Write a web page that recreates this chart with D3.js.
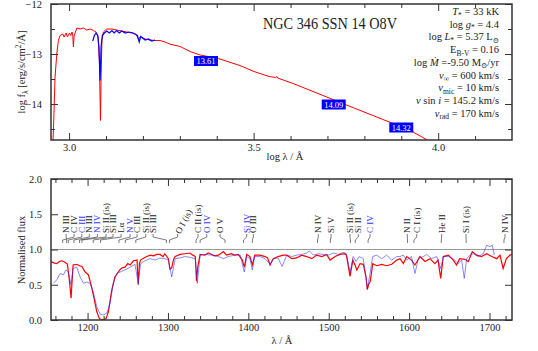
<!DOCTYPE html>
<html>
<head>
<meta charset="utf-8">
<script src="https://cdn.jsdelivr.net/npm/d3@7"></script>
<style>
  body { margin: 0; background: #fff; }
  text { font-family: "Liberation Serif", "DejaVu Serif", serif; fill: #222; }
</style>
</head>
<body>
<svg id="chart" width="538" height="351"></svg>
<script>
// ---- SED panel (log lambda vs log flux) ----
var sedLogLam = [2.9566, 2.959, 2.962, 2.9667, 2.971, 2.9756, 2.983, 2.9865, 2.992, 2.9955, 3.001, 3.0045, 3.008, 3.010, 3.0117, 3.0135, 3.0154,
  3.021, 3.03, 3.039, 3.048, 3.057, 3.066, 3.073, 3.0786, 3.082, 3.085, 3.0867, 3.089, 3.093, 3.102, 3.116, 3.129, 3.143, 3.156, 3.170,
  3.1816, 3.188, 3.194, 3.206, 3.2195, 3.233, 3.2466, 3.26, 3.272, 3.3008, 3.328, 3.355, 3.404, 3.463, 3.501, 3.542, 3.560, 3.563, 3.565,
  3.607, 3.688, 3.748, 3.878, 3.9295, 3.973];
var sedLogF = [-14.72, -14.2, -13.46, -13.0, -12.73, -12.63, -12.60, -12.66, -12.58, -12.66, -12.58, -12.63, -12.56, -12.62, -12.86, -12.65, -12.60,
  -12.48, -12.50, -12.48, -12.52, -12.50, -12.53, -12.56, -12.66, -13.13, -14.33, -13.46, -12.73, -12.56, -12.50, -12.50, -12.52, -12.54, -12.56, -12.58,
  -12.61, -12.70, -12.65, -12.70, -12.72, -12.73, -12.73, -12.76, -12.80, -12.85, -12.95, -13.02, -13.09, -13.23, -13.35, -13.45, -13.47, -13.45, -13.48,
  -13.59, -13.83, -14.01, -14.39, -14.55, -14.73];

var obsLogLam = [3.064, 3.0686, 3.073, 3.0777, 3.081, 3.084, 3.0867, 3.090, 3.0957, 3.102, 3.109, 3.116, 3.122, 3.129, 3.136, 3.143,
  3.152, 3.161, 3.174, 3.185, 3.190, 3.194, 3.206, 3.215, 3.224, 3.233];
var obsLogF = [-12.74, -12.63, -12.58, -12.63, -12.86, -13.53, -12.86, -12.63, -12.58, -12.54, -12.58, -12.53, -12.58, -12.53, -12.58, -12.54,
  -12.58, -12.56, -12.58, -12.63, -12.76, -12.65, -12.72, -12.70, -12.74, -12.72];

var photLogLam = [3.371, 3.717, 3.900];
var photLogF = [-13.14, -14.01, -14.47];
var photMag = ['13.61', '14.09', '14.32'];

var sedXTicks = [3.0, 3.5, 4.0];
var sedXMinor = [3.1, 3.2, 3.3, 3.4, 3.6, 3.7, 3.8, 3.9, 4.1];
var sedYTicks = [-14, -13, -12];
var sedYMinor = [-14.5, -13.5, -12.5];

var title = 'NGC 346 SSN 14 O8V';
var paramLines = [
  [['T', 'i'], ['*', 'sub'], [' = 33 kK']],
  [['log '], ['g', 'i'], ['*', 'sub'], [' =  4.4']],
  [['log '], ['L', 'i'], ['*', 'sub'], [' = 5.37 L'], ['\u2299', 'sub']],
  [['E'], ['B-V', 'sub'], [' = 0.16']],
  [['log '], ['\u1E40', 'i'], ['  =-9.50 M'], ['\u2299', 'sub'], ['/yr']],
  [['v', 'i'], ['\u221E', 'sub'], [' = 600 km/s']],
  [['v', 'i'], ['mic', 'sub'], [' = 10 km/s']],
  [['v', 'i'], [' sin '], ['i', 'i'], [' = 145.2 km/s']],
  [['v', 'i'], ['rad', 'sub'], [' = 170 km/s']]
];

// ---- UV panel (normalised) ----
var modelWave = [1154.5, 1158, 1161.7, 1165, 1168, 1172, 1175, 1177.5, 1179.5, 1181, 1182, 1186.5, 1190, 1193, 1197, 1201, 1205, 1208,
  1211.4, 1214.7, 1218, 1223, 1226, 1230, 1234, 1240, 1243, 1246.6, 1250, 1253, 1257, 1261.5, 1263, 1264.5, 1266, 1270, 1273.6, 1278,
  1282, 1286, 1290, 1294, 1296, 1300.5, 1302.5, 1304.7, 1307, 1309, 1315, 1321, 1327.5, 1331, 1334, 1335.5, 1337, 1340, 1346, 1350,
  1354.5, 1358, 1362.7, 1369, 1373, 1379, 1383, 1387.6, 1392.5, 1395, 1398, 1402, 1405, 1408, 1414.5, 1420.8, 1424, 1427, 1431, 1437,
  1443.5, 1447.8, 1454, 1460, 1466.4, 1472.6, 1479, 1485, 1491.4, 1497.5, 1501.6, 1508, 1514, 1520, 1522, 1526.5, 1530, 1532.7, 1535,
  1539, 1543, 1546.4, 1548, 1549.5, 1551.4, 1553, 1554.7, 1559.7, 1566, 1572, 1578.4, 1584.6, 1588.7, 1592.8, 1597, 1603, 1607.3,
  1613.5, 1619.8, 1626, 1632, 1636, 1639.3, 1642.5, 1648.8, 1655, 1659, 1663, 1669.5, 1673.6, 1678.6, 1684, 1690, 1696.5, 1702.7,
  1709, 1713, 1717, 1721, 1725.6, 1728];
var modelFlux = [0.83, 0.81, 0.80, 0.83, 0.84, 0.82, 0.79, 0.55, 0.31, 0.60, 0.78, 0.79, 0.77, 0.76, 0.68, 0.64, 0.47, 0.31,
  0.12, 0.02, 0.0, 0.02, 0.12, 0.42, 0.61, 0.71, 0.74, 0.75, 0.80, 0.78, 0.84, 0.85, 0.50, 0.80, 0.85, 0.88, 0.90, 0.92,
  0.91, 0.93, 0.93, 0.90, 0.94, 0.87, 0.72, 0.74, 0.86, 0.90, 0.93, 0.94, 0.95, 0.92, 0.90, 0.55, 0.75, 0.93, 0.92, 0.95,
  0.93, 0.91, 0.92, 0.97, 0.92, 0.94, 0.92, 0.93, 0.85, 0.75, 0.93, 0.90, 0.78, 0.92, 0.92, 0.90, 0.88, 0.78, 0.87, 0.90,
  0.92, 0.92, 0.87, 0.88, 0.92, 0.90, 0.87, 0.92, 0.90, 0.93, 0.85, 0.90, 0.93, 0.94, 0.92, 0.62, 0.85, 0.78, 0.71,
  0.80, 0.79, 0.61, 0.43, 0.50, 0.54, 0.65, 0.80, 0.77, 0.79, 0.77, 0.79, 0.85, 0.87, 0.80, 0.90, 0.85, 0.78,
  0.90, 0.83, 0.87, 0.80, 0.85, 0.59, 0.90, 0.92, 0.85, 0.78, 0.87, 0.86, 0.83, 0.97, 0.92, 0.90, 0.94, 0.90,
  0.87, 0.92, 0.73, 0.87, 0.92, 0.93];

var uvObsWave = [1157.5, 1161.7, 1165.8, 1170, 1173, 1176, 1179.5, 1182, 1186.5, 1190.7, 1195, 1199, 1203, 1207, 1211.4, 1215.5,
  1219.7, 1224, 1228, 1232, 1236.3, 1240.4, 1246.6, 1253, 1259, 1263, 1266, 1271.5, 1277.7, 1284, 1290, 1296, 1300.5, 1304.7,
  1309, 1315, 1321, 1327.5, 1334, 1336.5, 1340, 1346, 1354.5, 1362.7, 1369, 1375, 1383.5, 1390, 1395, 1398, 1402, 1405, 1408,
  1414.5, 1420.8, 1427, 1431, 1437, 1442, 1447.8, 1454, 1460, 1466.4, 1472.6, 1476, 1481, 1487, 1493, 1499.5, 1505.7, 1512,
  1518, 1522, 1526.5, 1530.5, 1534, 1538, 1543, 1546.4, 1548, 1551.4, 1554.7, 1559.7, 1566, 1572, 1578.4, 1584.6, 1588.7,
  1592.8, 1597, 1603, 1607.3, 1611.5, 1617.7, 1622, 1628, 1634.4, 1639.3, 1642.5, 1648.8, 1655, 1661, 1665.4, 1668.6, 1671.6,
  1675.7, 1680, 1686, 1692.3, 1696.5, 1700.6, 1703.5, 1706];
var uvObsFlux = [0.52, 0.57, 0.66, 0.64, 0.71, 0.68, 0.50, 0.73, 0.75, 0.61, 0.52, 0.54, 0.52, 0.40, 0.19, 0.085,
  0.07, 0.10, 0.24, 0.52, 0.66, 0.68, 0.71, 0.75, 0.79, 0.52, 0.80, 0.84, 0.87, 0.85, 0.88, 0.87, 0.85, 0.61,
  0.87, 0.88, 0.90, 0.89, 0.87, 0.52, 0.92, 0.93, 0.92, 0.90, 0.87, 0.90, 0.92, 0.92, 0.68, 0.90, 0.87, 0.71, 0.90,
  0.90, 0.87, 0.79, 0.87, 0.88, 0.76, 0.92, 0.90, 0.92, 0.93, 0.95, 0.98, 0.92, 0.94, 0.93, 0.92, 0.95, 0.93,
  0.96, 0.94, 0.68, 0.90, 0.83, 0.90, 0.87, 0.61, 0.44, 0.66, 0.90, 0.92, 0.87, 0.92, 0.85, 0.90, 0.90,
  0.92, 0.85, 0.90, 0.66, 0.87, 0.90, 0.93, 0.87, 0.90, 0.73, 0.90, 0.90, 0.87, 0.80, 0.85, 0.59, 0.87,
  0.92, 0.94, 0.90, 0.94, 1.06, 1.04, 1.06, 0.92];

var idText = ['N III', 'C IV', 'C III', 'N III', 'N IV', 'Si II (is)', 'Si III', 'L\u03B1', 'N V', 'C III', 'Si II (is)', 'Si III', 'O I (is)',
  'C II (is)', 'O IV', 'O V', 'Si IV', 'O III', 'N IV', 'Si V', 'Si II (is)', 'Si II', 'C IV', 'N II', 'C I (is)', 'He II', 'Si I (is)', 'N IV'];
var idWave = [1174, 1169, 1176, 1183, 1190, 1193, 1207, 1216, 1239, 1247, 1260, 1298, 1302,
  1335, 1340, 1371, 1394, 1405, 1486, 1502, 1527, 1533, 1549, 1598, 1606, 1640, 1671, 1718];
var idLabelWave = [1173.3, 1183.2, 1192.8, 1202.2, 1212.2, 1223, 1231.7, 1241.7, 1252.9, 1261.6, 1272.4, 1281.5, 1312,
  1337.4, 1348.3, 1364.8, 1398, 1406.2, 1487, 1502.9, 1526.5, 1536.8, 1551.4, 1597.8, 1609.5, 1640.5, 1670.8, 1719.3];
var idBlue = [0, 0, 1, 0, 1, 0, 0, 0, 1, 0, 0, 0, 0, 0, 1, 0, 1, 0, 0, 0, 0, 0, 1, 0, 0, 0, 0, 0];

var uvXTicks = [1200, 1300, 1400, 1500, 1600, 1700];
var uvXMinor = [1160, 1180, 1220, 1240, 1260, 1280, 1320, 1340, 1360, 1380, 1420, 1440, 1460, 1480,
  1520, 1540, 1560, 1580, 1620, 1640, 1660, 1680, 1720];
var uvYTicks = [0, 0.5, 1.0, 1.5, 2.0];

var svg = d3.select('#chart');
var frameColor = '#333';

var boxTop = { left: 51, right: 512, top: 4, bottom: 140 },
  boxBot = { left: 51, right: 512, top: 179, bottom: 320 };

var xTop = d3.scaleLinear().domain([2.951, 4.2]).range([boxTop.left, boxTop.right]),
  yTop = d3.scaleLinear().domain([-14.72, -12]).range([boxTop.bottom, boxTop.top]);
var xBot = d3.scaleLinear().domain([1154.5, 1728]).range([boxBot.left, boxBot.right]),
  yBot = d3.scaleLinear().domain([0, 2]).range([boxBot.bottom, boxBot.top]);

var defs = svg.append('defs');
[['clipTop', boxTop], ['clipBot', boxBot]].forEach(function(c) {
  defs.append('clipPath').attr('id', c[0]).append('rect')
    .attr('x', c[1].left).attr('y', c[1].top)
    .attr('width', c[1].right - c[1].left).attr('height', c[1].bottom - c[1].top);
});

function drawAxes(box, x, y, xMaj, xMin, yMaj, yMin, xFmt, yFmt) {
  var g = svg.append('g');
  function add(axis, tx, ty) {
    var a = g.append('g').attr('transform', 'translate(' + tx + ',' + ty + ')').call(axis);
    a.select('.domain').remove();
    a.selectAll('line').attr('stroke', frameColor).attr('stroke-width', 1);
    a.selectAll('text').attr('font-size', 10.5).style('font-family', '"Liberation Serif", serif').attr('fill', '#222');
  }
  add(d3.axisBottom(x).tickValues(xMaj).tickSize(-7).tickPadding(4).tickFormat(xFmt), 0, box.bottom);
  add(d3.axisBottom(x).tickValues(xMin).tickSize(-4).tickFormat(''), 0, box.bottom);
  add(d3.axisTop(x).tickValues(xMaj).tickSize(-7).tickFormat(''), 0, box.top);
  add(d3.axisTop(x).tickValues(xMin).tickSize(-4).tickFormat(''), 0, box.top);
  add(d3.axisLeft(y).tickValues(yMaj).tickSize(-7).tickPadding(9).tickFormat(yFmt), box.left, 0);
  add(d3.axisRight(y).tickValues(yMaj).tickSize(-7).tickFormat(''), box.right, 0);
  if (yMin.length) {
    add(d3.axisLeft(y).tickValues(yMin).tickSize(-4).tickFormat(''), box.left, 0);
    add(d3.axisRight(y).tickValues(yMin).tickSize(-4).tickFormat(''), box.right, 0);
  }
  g.append('rect')
    .attr('x', box.left).attr('y', box.top)
    .attr('width', box.right - box.left).attr('height', box.bottom - box.top)
    .attr('fill', 'none').attr('stroke', frameColor).attr('stroke-width', 1.5);
}

// ---------- top panel ----------
var lineTop = d3.line().x(function(d) { return xTop(d[0]); }).y(function(d) { return yTop(d[1]); });
var gTop = svg.append('g').attr('clip-path', 'url(#clipTop)');
gTop.append('path')
  .datum(sedLogLam.map(function(v, i) { return [v, sedLogF[i]]; }))
  .attr('d', lineTop).attr('fill', 'none').attr('stroke', '#ff0000').attr('stroke-width', 1);
gTop.append('path')
  .datum(obsLogLam.map(function(v, i) { return [v, obsLogF[i]]; }))
  .attr('d', lineTop).attr('fill', 'none').attr('stroke', '#0000ff').attr('stroke-width', 1.2);

var phot = svg.append('g').selectAll('g').data(photMag).enter().append('g')
  .attr('transform', function(d, i) { return 'translate(' + xTop(photLogLam[i]) + ',' + yTop(photLogF[i]) + ')'; });
phot.append('rect').attr('x', -12).attr('y', -5).attr('width', 24).attr('height', 10).attr('fill', '#0000ff');
phot.append('text').attr('text-anchor', 'middle').attr('y', 3).attr('font-size', 8.5)
  .style('fill', '#fff').text(function(d) { return d; });

drawAxes(boxTop, xTop, yTop, sedXTicks, sedXMinor, sedYTicks, sedYMinor, d3.format('.1f'), d3.format('d'));

svg.append('text').attr('x', 263).attr('y', 29).attr('font-size', 16)
  .attr('textLength', 134).attr('lengthAdjust', 'spacingAndGlyphs').text(title);

var params = svg.append('g').selectAll('text').data(paramLines).enter().append('text')
  .attr('x', 499).attr('y', function(d, i) { return 15 + i * 12.7; })
  .attr('text-anchor', 'end').attr('font-size', 10.5);
params.each(function(segs) {
  var t = d3.select(this), shifted = false;
  segs.forEach(function(s) {
    var sp = t.append('tspan').text(s[0]);
    if (s[1] === 'i') sp.attr('font-style', 'italic');
    if (s[1] === 'sub') {
      sp.attr('font-size', 7.5).attr('dy', shifted ? 0 : 2.5);
      shifted = true;
    } else if (shifted) {
      sp.attr('dy', -2.5);
      shifted = false;
    }
  });
});

svg.append('text').attr('x', 285).attr('y', 160).attr('text-anchor', 'middle').attr('font-size', 10.5)
  .text('log \u03BB / \u00C5');
var yl = svg.append('text').attr('transform', 'translate(25,72) rotate(-90)')
  .attr('text-anchor', 'middle').attr('font-size', 10.5);
yl.append('tspan').text('log f');
yl.append('tspan').attr('font-size', 7.5).attr('dy', 2.5).text('\u03BB');
yl.append('tspan').attr('dy', -2.5).text(' [erg/s/cm');
yl.append('tspan').attr('font-size', 7.5).attr('dy', -4).text('2');
yl.append('tspan').attr('dy', 4).text('/\u00C5]');

// ---------- bottom panel ----------
var lineBot = d3.line().x(function(d) { return xBot(d[0]); }).y(function(d) { return yBot(d[1]); });
var gBot = svg.append('g').attr('clip-path', 'url(#clipBot)');
gBot.append('line')
  .attr('x1', boxBot.left).attr('x2', boxBot.right)
  .attr('y1', yBot(1)).attr('y2', yBot(1))
  .attr('stroke', '#999').attr('stroke-width', 1);
gBot.append('path')
  .datum(modelWave.map(function(v, i) { return [v, modelFlux[i]]; }))
  .attr('d', lineBot).attr('fill', 'none').attr('stroke', '#ff0000').attr('stroke-width', 1.2);
gBot.append('path')
  .datum(uvObsWave.map(function(v, i) { return [v, uvObsFlux[i]]; }))
  .attr('d', lineBot).attr('fill', 'none').attr('stroke', '#2a2aff').attr('stroke-opacity', 0.55).attr('stroke-width', 1);

// line identifications
var ids = svg.append('g').selectAll('g').data(idText).enter().append('g');
ids.append('path')
  .attr('d', function(d, i) {
    var xl = xBot(idLabelWave[i]), xw = xBot(idWave[i]);
    return 'M' + xl + ',234V237L' + xw + ',240V243';
  })
  .attr('fill', 'none').attr('stroke', '#444').attr('stroke-width', 0.7);
ids.append('text')
  .attr('transform', function(d, i) {
    var rot = d === 'O I (is)' ? -62 : -90;
    return 'translate(' + xBot(idLabelWave[i]) + ',233) rotate(' + rot + ')';
  })
  .attr('dy', '0.33em').attr('font-size', 9)
  .style('fill', function(d, i) { return idBlue[i] ? '#3333ff' : '#222'; })
  .text(function(d) { return d; });

drawAxes(boxBot, xBot, yBot, uvXTicks, uvXMinor, uvYTicks, [], d3.format('d'), d3.format('.1f'));

svg.append('text').attr('x', 282).attr('y', 344).attr('text-anchor', 'middle').attr('font-size', 10.5)
  .text('\u03BB / \u00C5');
svg.append('text').attr('transform', 'translate(25,250) rotate(-90)')
  .attr('text-anchor', 'middle').attr('font-size', 10.5).text('Normalised flux');
</script>
</body>
</html>
